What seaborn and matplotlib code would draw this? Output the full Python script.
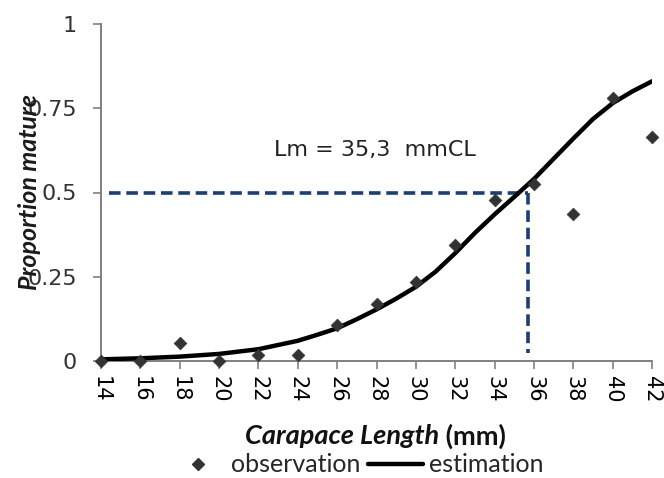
import matplotlib
matplotlib.use("Agg")
import matplotlib.pyplot as plt
import seaborn as sns
import pandas as pd
from matplotlib.lines import Line2D

# ---- data ----
lengths = [14, 16, 18, 20, 22, 24, 26, 28, 30, 32, 34, 36, 38, 40, 42]
observation = [0.0, 0.0, 0.052, 0.0, 0.018, 0.018, 0.107, 0.168, 0.234, 0.344,
               0.478, 0.525, 0.436, 0.78, 0.666]
est_lengths = [14, 16, 18, 20, 22, 24, 25, 26, 27, 28, 29, 30, 31, 32, 33, 34,
               35, 36, 37, 38, 39, 40, 41, 42]
estimation = [0.005, 0.008, 0.013, 0.021, 0.035, 0.06, 0.078, 0.097, 0.124,
              0.153, 0.185, 0.22, 0.265, 0.32, 0.38, 0.435, 0.487, 0.54, 0.6,
              0.66, 0.718, 0.765, 0.80, 0.83]
lm_x = 35.7
lm_y = 0.5
lm_label = "Lm = 35,3  mmCL"
xticks = list(range(14, 43, 2))
yticks = [0, 0.25, 0.5, 0.75, 1]
ytick_labels = ["0", "0.25", "0.5", "0.75", "1"]

obs_df = pd.DataFrame({"length": lengths, "observation": observation})
est_df = pd.DataFrame({"length": est_lengths, "estimation": estimation})

sns.set_theme(style="white")
plt.rcParams["font.family"] = ["DejaVu Sans"]

fig = plt.figure(figsize=(6.64, 4.78), dpi=100)
ax = fig.add_axes([101 / 664, 1 - 361 / 478, 551 / 664, 337 / 478])

navy = "#1c3f6e"
ax.plot([14.4, lm_x], [lm_y, lm_y], color=navy, lw=2.6, ls=(0, (3.2, 1.6)), zorder=2)
ax.plot([lm_x, lm_x], [lm_y, 0.024], color=navy, lw=2.6, ls=(0, (3.2, 1.6)), zorder=2)

sns.lineplot(data=est_df, x="length", y="estimation", ax=ax, color="black",
             lw=3.2, zorder=3)
sns.scatterplot(data=obs_df, x="length", y="observation", ax=ax, marker="D",
                s=42, color="#333333", edgecolor="#333333", linewidth=0.5,
                zorder=4, clip_on=False)

ax.set_xlim(14, 42)
ax.set_ylim(0, 1)
ax.set_xticks(xticks)
ax.set_xticklabels([str(t) for t in xticks], rotation=270, fontsize=15,
                   color="black")
ax.set_yticks(yticks)
ax.set_yticklabels(ytick_labels, fontsize=16, color="#333333")
ax.tick_params(axis="both", direction="out", length=5.5, width=1.2,
               color="#808080", bottom=True, left=True)
ax.tick_params(axis="y", pad=12)
ax.tick_params(axis="x", pad=5)
for s in ["top", "right"]:
    ax.spines[s].set_visible(False)
for s in ["left", "bottom"]:
    ax.spines[s].set_color("#808080")
    ax.spines[s].set_linewidth(1.4)
ax.set_xlabel("")
ax.set_ylabel("")

ax.text(22.8, 0.625, lm_label, fontsize=16, color="#222222", va="center",
        ha="left")

# y label
fig.text(30 / 664, 1 - 192 / 478, "Proportion mature", rotation=90,
         fontsize=18, fontweight="bold", fontstyle="italic", family="Lato",
         ha="center", va="center", color="#1a1a1a")

# x label (mixed style)
t1 = fig.text(245 / 664, 1 - 436 / 478, "Carapace Length", fontsize=19.5,
              fontweight="bold", fontstyle="italic", family="Lato",
              ha="left", va="center", color="#111111")
ax.annotate(" (mm)", xy=(1, 0.5), xycoords=t1, fontsize=19.5,
            fontweight="bold", family="Lato", ha="left", va="center",
            color="#111111")

handles = [Line2D([], [], marker="D", ls="none", color="#333333", markersize=6),
           Line2D([], [], color="black", lw=3.2)]
fig.legend(handles, ["observation", "estimation"], loc="center",
           bbox_to_anchor=(357 / 664, 1 - 465 / 478), ncol=2, frameon=False,
           prop={"family": "Lato", "size": 18}, handlelength=2.2,
           handletextpad=0.25, columnspacing=0.3, borderaxespad=0)

fig.savefig("out.png", dpi=100)
